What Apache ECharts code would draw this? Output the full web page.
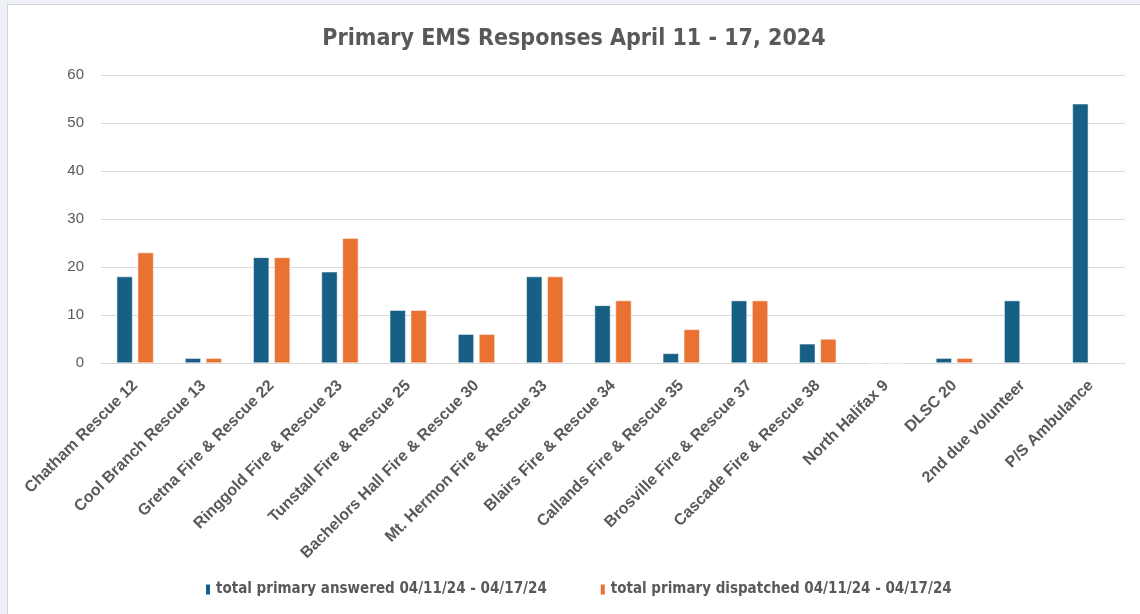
<!DOCTYPE html>
<html>
<head>
<meta charset="utf-8">
<script src="https://cdn.jsdelivr.net/npm/echarts@6/dist/echarts.min.js"></script>
<style>
html,body{margin:0;padding:0;background:#eef1f5;width:1140px;height:614px;overflow:hidden;}
#panel{position:absolute;left:7px;top:4px;width:1133px;height:610px;background:#fff;border-top:1px solid #d4d4d4;border-left:1px solid #d4d4d4;box-sizing:border-box;}
#chart{width:100%;height:100%;}
</style>
</head>
<body>
<div id="panel"><div id="chart"></div></div>
<script>
const titleText = "Primary EMS Responses April 11 - 17, 2024";
const categories = ["Chatham Rescue 12","Cool Branch Rescue 13","Gretna Fire & Rescue 22","Ringgold Fire & Rescue 23","Tunstall Fire & Rescue 25","Bachelors Hall Fire & Rescue 30","Mt. Hermon Fire & Rescue 33","Blairs Fire & Rescue 34","Callands Fire & Rescue 35","Brosville Fire & Rescue 37","Cascade Fire & Rescue 38","North Halifax 9","DLSC 20","2nd due volunteer","P/S Ambulance"];
const seriesNames = ["total primary answered 04/11/24 - 04/17/24","total primary dispatched 04/11/24 - 04/17/24"];
const answered = [18,1,22,19,11,6,18,12,2,13,4,0,1,13,54];
const dispatched = [23,1,22,26,11,6,18,13,7,13,5,0,1,null,null];
const yTicks = [0,10,20,30,40,50,60];

const chart = echarts.init(document.getElementById('chart'));
const cond = "'DejaVu Sans Condensed', 'Liberation Sans', sans-serif";
chart.setOption({
  animation:false,
  backgroundColor:'#ffffff',
  color:['#175f84','#e97132'],
  title:{text:titleText,left:'center',top:18,textStyle:{fontFamily:cond,fontSize:23,fontWeight:'bold',color:'#595959'}},
  legend:{bottom:12,left:191,itemWidth:6,itemHeight:12,itemGap:52,icon:'rect',
    textStyle:{fontFamily:cond,fontSize:15,fontWeight:'bold',color:'#595959'}},
  grid:{left:93,right:15,top:70,bottom:251,containLabel:false},
  xAxis:{type:'category',data:categories,
    axisLine:{show:true,lineStyle:{color:'#d9d9d9',width:1}},
    axisTick:{show:false},
    axisLabel:{interval:0,rotate:45,fontFamily:'Liberation Sans, Arial, sans-serif',fontSize:16,fontWeight:'bold',color:'#595959',margin:20}},
  yAxis:{type:'value',min:yTicks[0],max:yTicks[yTicks.length-1],interval:10,
    axisLine:{show:false},axisTick:{show:false},
    splitLine:{lineStyle:{color:'#d9d9d9',width:1}},
    axisLabel:{fontFamily:'Liberation Sans, Arial, sans-serif',fontSize:15,color:'#595959',margin:17}},
  series:[
    {name:seriesNames[0],type:'bar',data:answered,barGap:'32%',barCategoryGap:'46%',itemStyle:{borderColor:'#ffffff',borderWidth:0.5}},
    {name:seriesNames[1],type:'bar',data:dispatched,itemStyle:{borderColor:'#ffffff',borderWidth:0.5}}
  ]
});
</script>
</body>
</html>
